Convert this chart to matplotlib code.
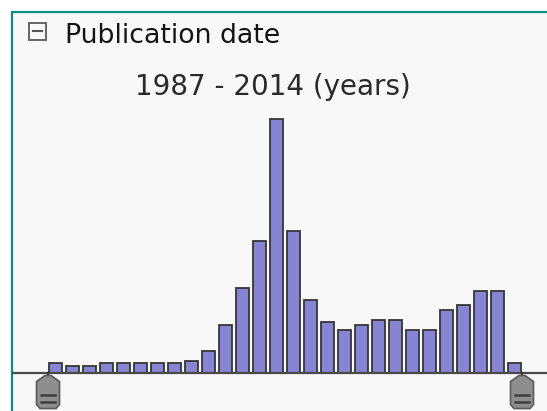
import matplotlib
matplotlib.use("Agg")
import matplotlib.pyplot as plt
from matplotlib.patches import Rectangle, Polygon
from matplotlib.lines import Line2D
from matplotlib import transforms as mtrans

# ---- data ----
years = list(range(1987, 2015))
counts = [9.5, 7, 7, 9.5, 9.5, 9.5, 9.5, 9.5, 12, 21.5, 48, 85, 131, 253, 141,
          73, 50.5, 43, 48, 53, 53, 43, 43, 63, 68, 82, 82, 9.5]
title = "Publication date"
subtitle = "1987 - 2014 (years)"

W, H, DPI = 547, 411, 100
fig = plt.figure(figsize=(W / DPI, H / DPI), dpi=DPI, facecolor="white")

# panel with teal border
panel = Rectangle((12 / W, -0.05), 1.2, (H - 12.5) / H + 0.05, transform=fig.transFigure,
                  facecolor="#f8f8f8", edgecolor="#0a8f80", linewidth=1.6, zorder=-5)
fig.patches.append(panel)

# bar axes
ax = fig.add_axes([12 / W, 0, (W - 12) / W, (H - 14) / H])
ax.set_facecolor("none")
ax.set_zorder(2)
px = 17.0
x0 = 1987 - (55.5 - 12) / px
x1 = 1987 + (W - 55.5) / px
ax.set_xlim(x0, x1)
base = H - 372.5
ax.set_ylim(-base, (H - 14) - base)
ax.axis("off")

ax.bar(years, counts, width=0.71, color="#8884d4", edgecolor="#363636",
       linewidth=1.3, zorder=2)
ax.axhline(0, color="#4a4a4a", linewidth=1.6, zorder=3)

# range handles below baseline
def handle(xd):
    off = mtrans.ScaledTranslation(xd, 0, ax.transData)
    t = mtrans.Affine2D().scale(1.0 / DPI) + fig.dpi_scale_trans + off
    ax.add_line(Line2D([0, 0], [0, -5], transform=t, color="#333333",
                       linewidth=1.6, clip_on=False, zorder=4))
    poly = Polygon([(-3, -3), (3, -3), (11.5, -9), (11.5, -32), (8, -36),
                    (-8, -36), (-11.5, -32), (-11.5, -9)], closed=True,
                   transform=t, facecolor="#8e8e8e", edgecolor="#5a5a5a",
                   linewidth=1.2, clip_on=False, zorder=4)
    ax.add_patch(poly)
    for yy in (-22.5, -29):
        ax.add_line(Line2D([-7, 7], [yy, yy], transform=t, color="#3f3f3f",
                           linewidth=1.8, clip_on=False, zorder=5))

handle(years[0] - 0.36 - 0.08)
handle(years[-1] + 0.36 + 0.08)

# minus box icon
icon = Rectangle((28.5 / W, 1 - 40 / H), 17 / W, 17 / H, transform=fig.transFigure,
                 facecolor="none", edgecolor="#666666", linewidth=1.4, zorder=5)
fig.patches.append(icon)
fig.add_artist(Line2D([32.5 / W, 41.5 / W], [1 - 31.5 / H, 1 - 31.5 / H],
                      transform=fig.transFigure, color="#555555", linewidth=1.5))

fig.text(65 / W, 1 - 43 / H, title, fontsize=19.3, color="#141414",
         family="DejaVu Sans", va="baseline", ha="left")
fig.text(273 / W, 1 - 95 / H, subtitle, fontsize=20, color="#2a2a2a",
         family="DejaVu Sans", va="baseline", ha="center")

fig.savefig("out.png", dpi=DPI, facecolor="white")
